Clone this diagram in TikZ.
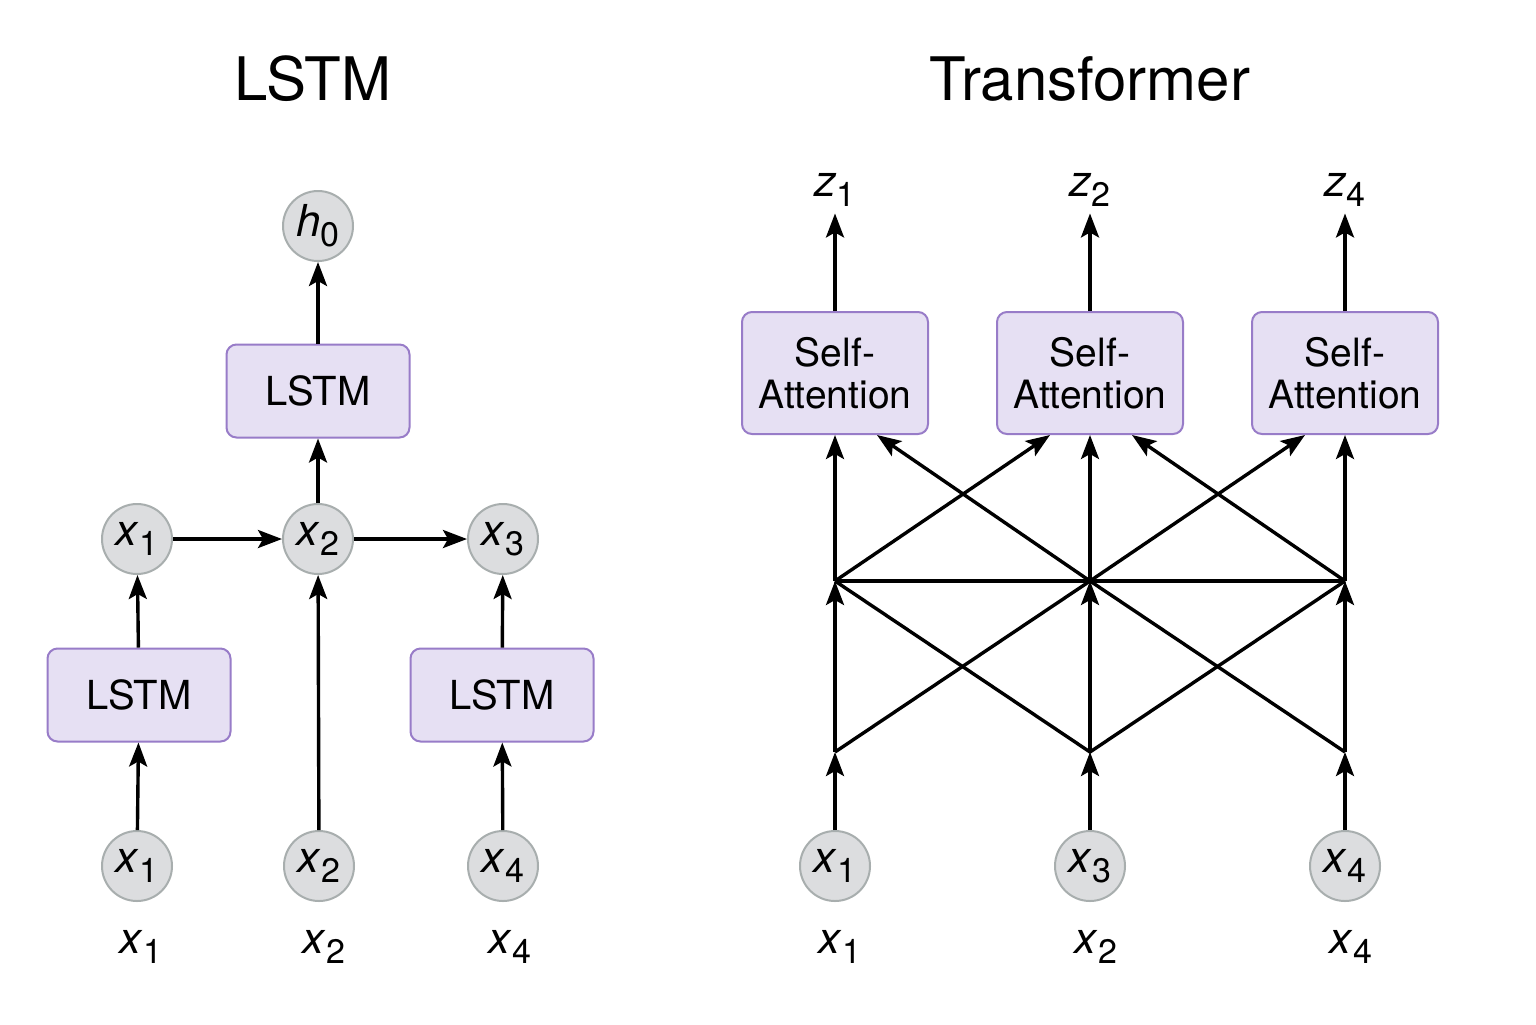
\documentclass[tikz,border=0pt]{standalone}
\usepackage{fontspec}
\setmainfont{TeX Gyre Heros}
\usetikzlibrary{arrows.meta,positioning}
\definecolor{cellfill}{RGB}{230,224,243}
\definecolor{celldraw}{RGB}{152,124,200}
\definecolor{tokfill}{RGB}{220,221,223}
\definecolor{tokdraw}{RGB}{168,174,174}
\newcommand\vsub[2]{\textit{#1}\raisebox{-0.45ex}{\fontsize{17}{17}\selectfont #2}}

\begin{document}
\begin{tikzpicture}[x=0.5pt,y=-0.5pt,
	tok/.style={circle,fill=tokfill,draw=tokdraw,line width=1pt,minimum size=35pt,
		inner sep=0pt,font=\fontsize{22}{22}\selectfont},
	cell/.style={rectangle,rounded corners=5pt,fill=cellfill,draw=celldraw,line width=1pt,
		minimum width=91.5pt,minimum height=46.5pt,font=\fontsize{20}{20}\selectfont},
	attn/.style={cell,minimum width=93pt,minimum height=61pt,align=center,
		font=\fontsize{19.5}{21}\selectfont},
	lbl/.style={anchor=base,font=\fontsize{22}{22}\selectfont},
	title/.style={anchor=base,font=\fontsize{30}{30}\selectfont},
	arr/.style={-{Stealth[length=12pt,width=9pt,inset=2.5pt]},line width=1.7pt},
	wire/.style={line width=1.7pt}]
	\useasboundingbox[fill=white] (0,0) rectangle (1536,1024);

	% LSTM
	\node[title] (tl) at (313,100) {LSTM};
	\node[tok] (h0) at (318,226) {\vsub{h}{0}};
	\node[cell] (top) at (318,391) {LSTM};
	\node[tok] (m1) at (137,539) {\vsub{x}{1}};
	\node[tok] (m2) at (318,539) {\vsub{x}{2}};
	\node[tok] (m3) at (503,539) {\vsub{x}{3}};
	\node[cell] (c1) at (139,695) {LSTM};
	\node[cell] (c3) at (502,695) {LSTM};
	\node[tok] (b1) at (137,866) {\vsub{x}{1}};
	\node[tok] (b2) at (319,866) {\vsub{x}{2}};
	\node[tok] (b3) at (503,866) {\vsub{x}{4}};
	\node[lbl] (l1) at (141,953) {\vsub{x}{1}};
	\node[lbl] (l2) at (324,953) {\vsub{x}{2}};
	\node[lbl] (l3) at (510,953) {\vsub{x}{4}};

	\draw[arr] (top) -- (h0);
	\draw[arr] (m2) -- (top);
	\draw[arr] (m1) -- (m2);
	\draw[arr] (m2) -- (m3);
	\draw[arr] (c1) -- (m1);
	\draw[arr] (c3) -- (m3);
	\draw[arr] (b1) -- (c1);
	\draw[arr] (b2) -- (m2);
	\draw[arr] (b3) -- (c3);

	% Transformer
	\node[title] (tt) at (1090,100) {Transformer};
	\node[lbl] (z1) at (835,196) {\vsub{z}{1}};
	\node[lbl] (z2) at (1090,196) {\vsub{z}{2}};
	\node[lbl] (z3) at (1345,196) {\vsub{z}{4}};
	\node[attn] (sa1) at (835,373) {Self-\\Attention};
	\node[attn] (sa2) at (1090,373) {Self-\\Attention};
	\node[attn] (sa3) at (1345,373) {Self-\\Attention};
	\coordinate (p1) at (835,581);
	\coordinate (p2) at (1090,581);
	\coordinate (p3) at (1345,581);
	\coordinate (q1) at (835,752);
	\coordinate (q2) at (1090,752);
	\coordinate (q3) at (1345,752);
	\node[tok] (t1) at (835,866) {\vsub{x}{1}};
	\node[tok] (t2) at (1090,866) {\vsub{x}{3}};
	\node[tok] (t3) at (1345,866) {\vsub{x}{4}};
	\node[lbl] (k1) at (840,953) {\vsub{x}{1}};
	\node[lbl] (k2) at (1096,953) {\vsub{x}{2}};
	\node[lbl] (k3) at (1351,953) {\vsub{x}{4}};

	\draw[arr] (sa1.north) -- (z1.south);
	\draw[arr] (sa2.north) -- (z2.south);
	\draw[arr] (sa3.north) -- (z3.south);
	\draw[arr] (p1) -- (sa1.south);
	\draw[arr] (p2) -- (sa2.south);
	\draw[arr] (p3) -- (sa3.south);
	\draw[arr] (p1) -- ([xshift=-20pt]sa2.south);
	\draw[arr] (p2) -- ([xshift=21pt]sa1.south);
	\draw[arr] (p2) -- ([xshift=-20pt]sa3.south);
	\draw[arr] (p3) -- ([xshift=21pt]sa2.south);
	\draw[wire] (p1) -- (p2) -- (p3);
	\draw[wire] (q1) -- (p2) -- (q3);
	\draw[wire] (p1) -- (q2) -- (p3);
	\draw[arr] (q1) -- (p1);
	\draw[arr] (q2) -- (p2);
	\draw[arr] (q3) -- (p3);
	\draw[arr] (t1) -- (q1);
	\draw[arr] (t2) -- (q2);
	\draw[arr] (t3) -- (q3);
\end{tikzpicture}
\end{document}
